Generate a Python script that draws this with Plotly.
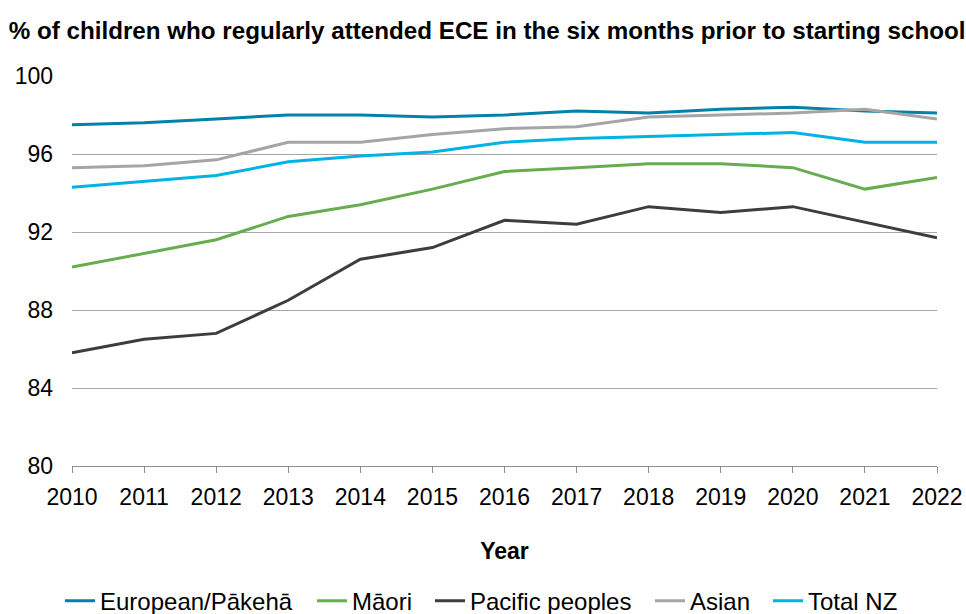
import plotly.graph_objects as go

years = list(range(2010, 2023))

european = [97.5, 97.6, 97.8, 98.0, 98.0, 97.9, 98.0, 98.2, 98.1, 98.3, 98.4, 98.2, 98.1]
maori = [90.2, 90.9, 91.6, 92.8, 93.4, 94.2, 95.1, 95.3, 95.5, 95.5, 95.3, 94.2, 94.8]
pacific = [85.8, 86.5, 86.8, 88.5, 90.6, 91.2, 92.6, 92.4, 93.3, 93.0, 93.3, 92.5, 91.7]
asian = [95.3, 95.4, 95.7, 96.6, 96.6, 97.0, 97.3, 97.4, 97.9, 98.0, 98.1, 98.3, 97.8]
total_nz = [94.3, 94.6, 94.9, 95.6, 95.9, 96.1, 96.6, 96.8, 96.9, 97.0, 97.1, 96.6, 96.6]

series = [
    ("European/Pākehā", european, "#0082AA"),
    ("Māori", maori, "#68AC50"),
    ("Pacific peoples", pacific, "#3D3D3B"),
    ("Asian", asian, "#A5A5A5"),
    ("Total NZ", total_nz, "#00B3E3"),
]

y_ticks = [80, 84, 88, 92, 96, 100]

# left edge (px) of each legend entry along the bottom row
legend_left = [60, 312, 430, 650, 768]

font_family = "Liberation Sans, Arial, sans-serif"
W, H = 966, 614

fig = go.Figure()
legend_layout = {}
for i, ((name, vals, color), left) in enumerate(zip(series, legend_left)):
    key = "legend" if i == 0 else f"legend{i + 1}"
    fig.add_trace(go.Scatter(
        x=years, y=vals, name=name, mode="lines",
        line=dict(color=color, width=3),
        legend=key,
    ))
    legend_layout[key] = dict(
        orientation="h", x=left / W, xanchor="left", xref="container",
        y=0.021, yanchor="middle", yref="container",
        font=dict(family=font_family, size=24),
        itemwidth=30, bgcolor="rgba(0,0,0,0)", borderwidth=0,
    )

fig.update_layout(
    width=W, height=H,
    margin=dict(l=72, r=29, t=76, b=148, autoexpand=False),
    paper_bgcolor="white", plot_bgcolor="white",
    font=dict(family=font_family, size=23, color="#000000"),
    title=dict(
        text="<b>% of children who regularly attended ECE in the six months prior to starting school</b>",
        x=0.009, xanchor="left", xref="container",
        y=0.951, yanchor="middle", yref="container",
        font=dict(family=font_family, size=24.2, color="#000000"),
    ),
    showlegend=True,
    xaxis=dict(
        range=[2010, 2022], tickvals=years, ticktext=[str(y) for y in years],
        showgrid=False, showline=True, linecolor="#8C8C8C", linewidth=1,
        ticks="outside", ticklen=6, tickcolor="#8C8C8C",
        ticklabelstandoff=4,
        title=dict(text="<b>Year</b>", standoff=34, font=dict(size=23)),
        zeroline=False,
    ),
    yaxis=dict(
        range=[80, 100], tickvals=y_ticks,
        showgrid=True, gridcolor="#A6A6A6", gridwidth=1,
        zeroline=False, showline=False, ticks="", ticklabelstandoff=18,
    ),
    **legend_layout,
)

fig.write_html("out.html")
